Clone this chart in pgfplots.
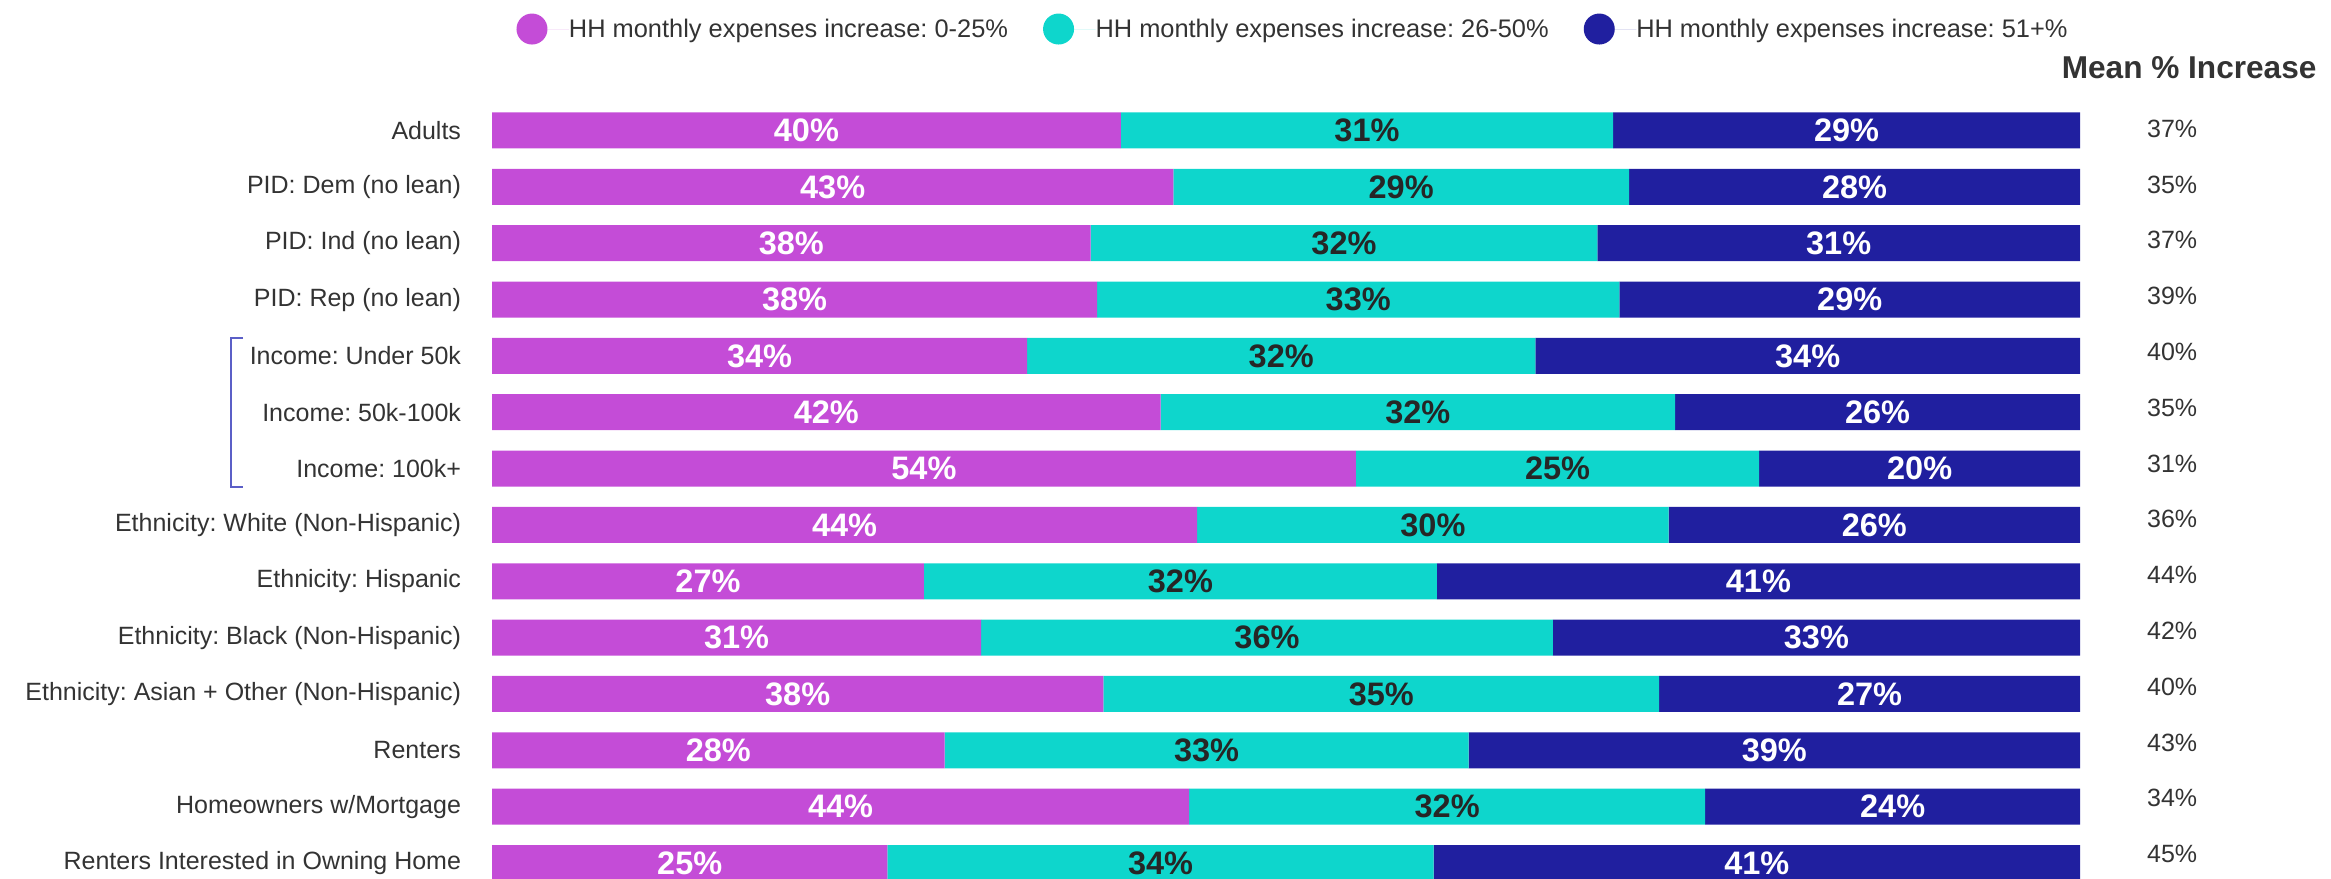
\documentclass[border=0pt]{standalone}
\usepackage{pgfplots}
\pgfplotsset{compat=1.18}
\usepackage{pgfplotstable}
\usepackage{fontspec}
\setmainfont{Liberation Sans}
\frenchspacing

\definecolor{cmag}{RGB}{196,76,215}
\definecolor{cteal}{RGB}{14,214,204}
\definecolor{cnavy}{RGB}{32,31,159}
\definecolor{ctext}{RGB}{51,51,51}
\definecolor{cdark}{RGB}{38,38,38}
\definecolor{cbrack}{RGB}{91,95,199}

% segment widths (bar geometry) and printed labels
\pgfplotstableread{
idx a    b    c    la lb lc mean
0   39.6 31.0 29.4 40 31 29 37
1   42.9 28.7 28.4 43 29 28 35
2   37.7 31.9 30.4 38 32 31 37
3   38.1 32.9 29.0 38 33 29 39
4   33.7 32.0 34.3 34 32 34 40
5   42.1 32.4 25.5 42 32 26 35
6   54.4 25.4 20.2 54 25 20 31
7   44.4 29.7 25.9 44 30 26 36
8   27.2 32.3 40.5 27 32 41 44
9   30.8 36.0 33.2 31 36 33 42
10  38.5 35.0 26.5 38 35 27 40
11  28.5 33.0 38.5 28 33 39 43
12  43.9 32.5 23.6 44 32 24 34
13  24.9 34.4 40.7 25 34 41 45
}\data

\newcommand\lab{\fontsize{25}{30}\selectfont}
\newcommand\leglab{\fontsize{25.4}{30}\selectfont}
\newcommand\barlab{\fontsize{32.5}{38}\selectfont\bfseries}

\pgfplotsset{
  base/.style={
    at={(492pt,-102.3pt)}, anchor=north west,
    scale only axis, width=1588pt, height=788.9pt,
    xmin=0, xmax=100, ymin=-0.5, ymax=13.5,
    y dir=reverse, enlargelimits=false,
  },
}

\begin{document}
\begin{tikzpicture}
\begin{axis}[
  base,
  xbar stacked, bar width=36pt,
  axis line style={draw=none},
  xtick=\empty,
  ytick={0,...,13},
  major tick length=0pt,
  yticklabels={Adults, PID: Dem (no lean), PID: Ind (no lean), PID: Rep (no lean),
    Income: Under 50k, Income: 50k-100k, Income: 100k+,
    Ethnicity: White (Non-Hispanic), Ethnicity: Hispanic,
    Ethnicity: Black (Non-Hispanic), Ethnicity: Asian + Other (Non-Hispanic),
    Renters, Homeowners w/Mortgage, Renters Interested in Owning Home},
  yticklabel style={anchor=east, inner sep=0pt, outer sep=0pt, xshift=-31pt,
    font=\lab, text=ctext},
  legend columns=3,
  legend image code/.code={\path (-15.5pt,0pt) -- (37pt,0pt);
    \fill[#1, draw=none] (0pt,0pt) circle (15.5pt);},
  legend style={at={(0.01543,1.0929)}, anchor=west, draw=none, fill=none,
    inner sep=0pt, outer sep=0pt, column sep=0pt,
    nodes={inner sep=0pt, anchor=west, font=\leglab, text=ctext},
    /tikz/every even column/.append style={column sep=35pt}},
]
\addplot[fill=cmag, draw=none] table[x=a, y=idx] {\data};
\addlegendentry{HH monthly expenses increase: 0-25\%}
\addplot[fill=cteal, draw=none] table[x=b, y=idx] {\data};
\addlegendentry{HH monthly expenses increase: 26-50\%}
\addplot[fill=cnavy, draw=none] table[x=c, y=idx] {\data};
\addlegendentry{HH monthly expenses increase: 51+\%}
\end{axis}

\begin{axis}[
  base, hide axis, clip=false,
  point meta=explicit symbolic,
  nodes near coords={\pgfplotspointmeta\%},
  nodes near coords align={center},
]
\addplot[draw=none, mark=none, every node near coord/.append style={anchor=center, font=\barlab, text=white}]
  table[x expr=\thisrow{a}/2, y=idx, meta=la] {\data};
\addplot[draw=none, mark=none, every node near coord/.append style={anchor=center, font=\barlab, text=cdark}]
  table[x expr=\thisrow{a}+\thisrow{b}/2, y=idx, meta=lb] {\data};
\addplot[draw=none, mark=none, every node near coord/.append style={anchor=center, font=\barlab, text=white}]
  table[x expr=\thisrow{a}+\thisrow{b}+\thisrow{c}/2, y=idx, meta=lc] {\data};
\addplot[draw=none, mark=none, every node near coord/.append style={anchor=center, font=\lab, text=ctext}]
  table[x expr=105.8, y expr=\thisrow{idx}*0.99-0.03, meta=mean] {\data};
\end{axis}

\node[anchor=base east, font=\fontsize{31.6}{36}\selectfont\bfseries, text=ctext]
  at (2320pt,-78pt) {Mean \% Increase};
\draw[cbrack, line width=1.5pt] (243pt,-338pt) -- (231pt,-338pt) -- (231pt,-487pt) -- (243pt,-487pt);

\pgfresetboundingbox
\useasboundingbox (0pt,0pt) rectangle (2331pt,-878pt);
\end{tikzpicture}
\end{document}
